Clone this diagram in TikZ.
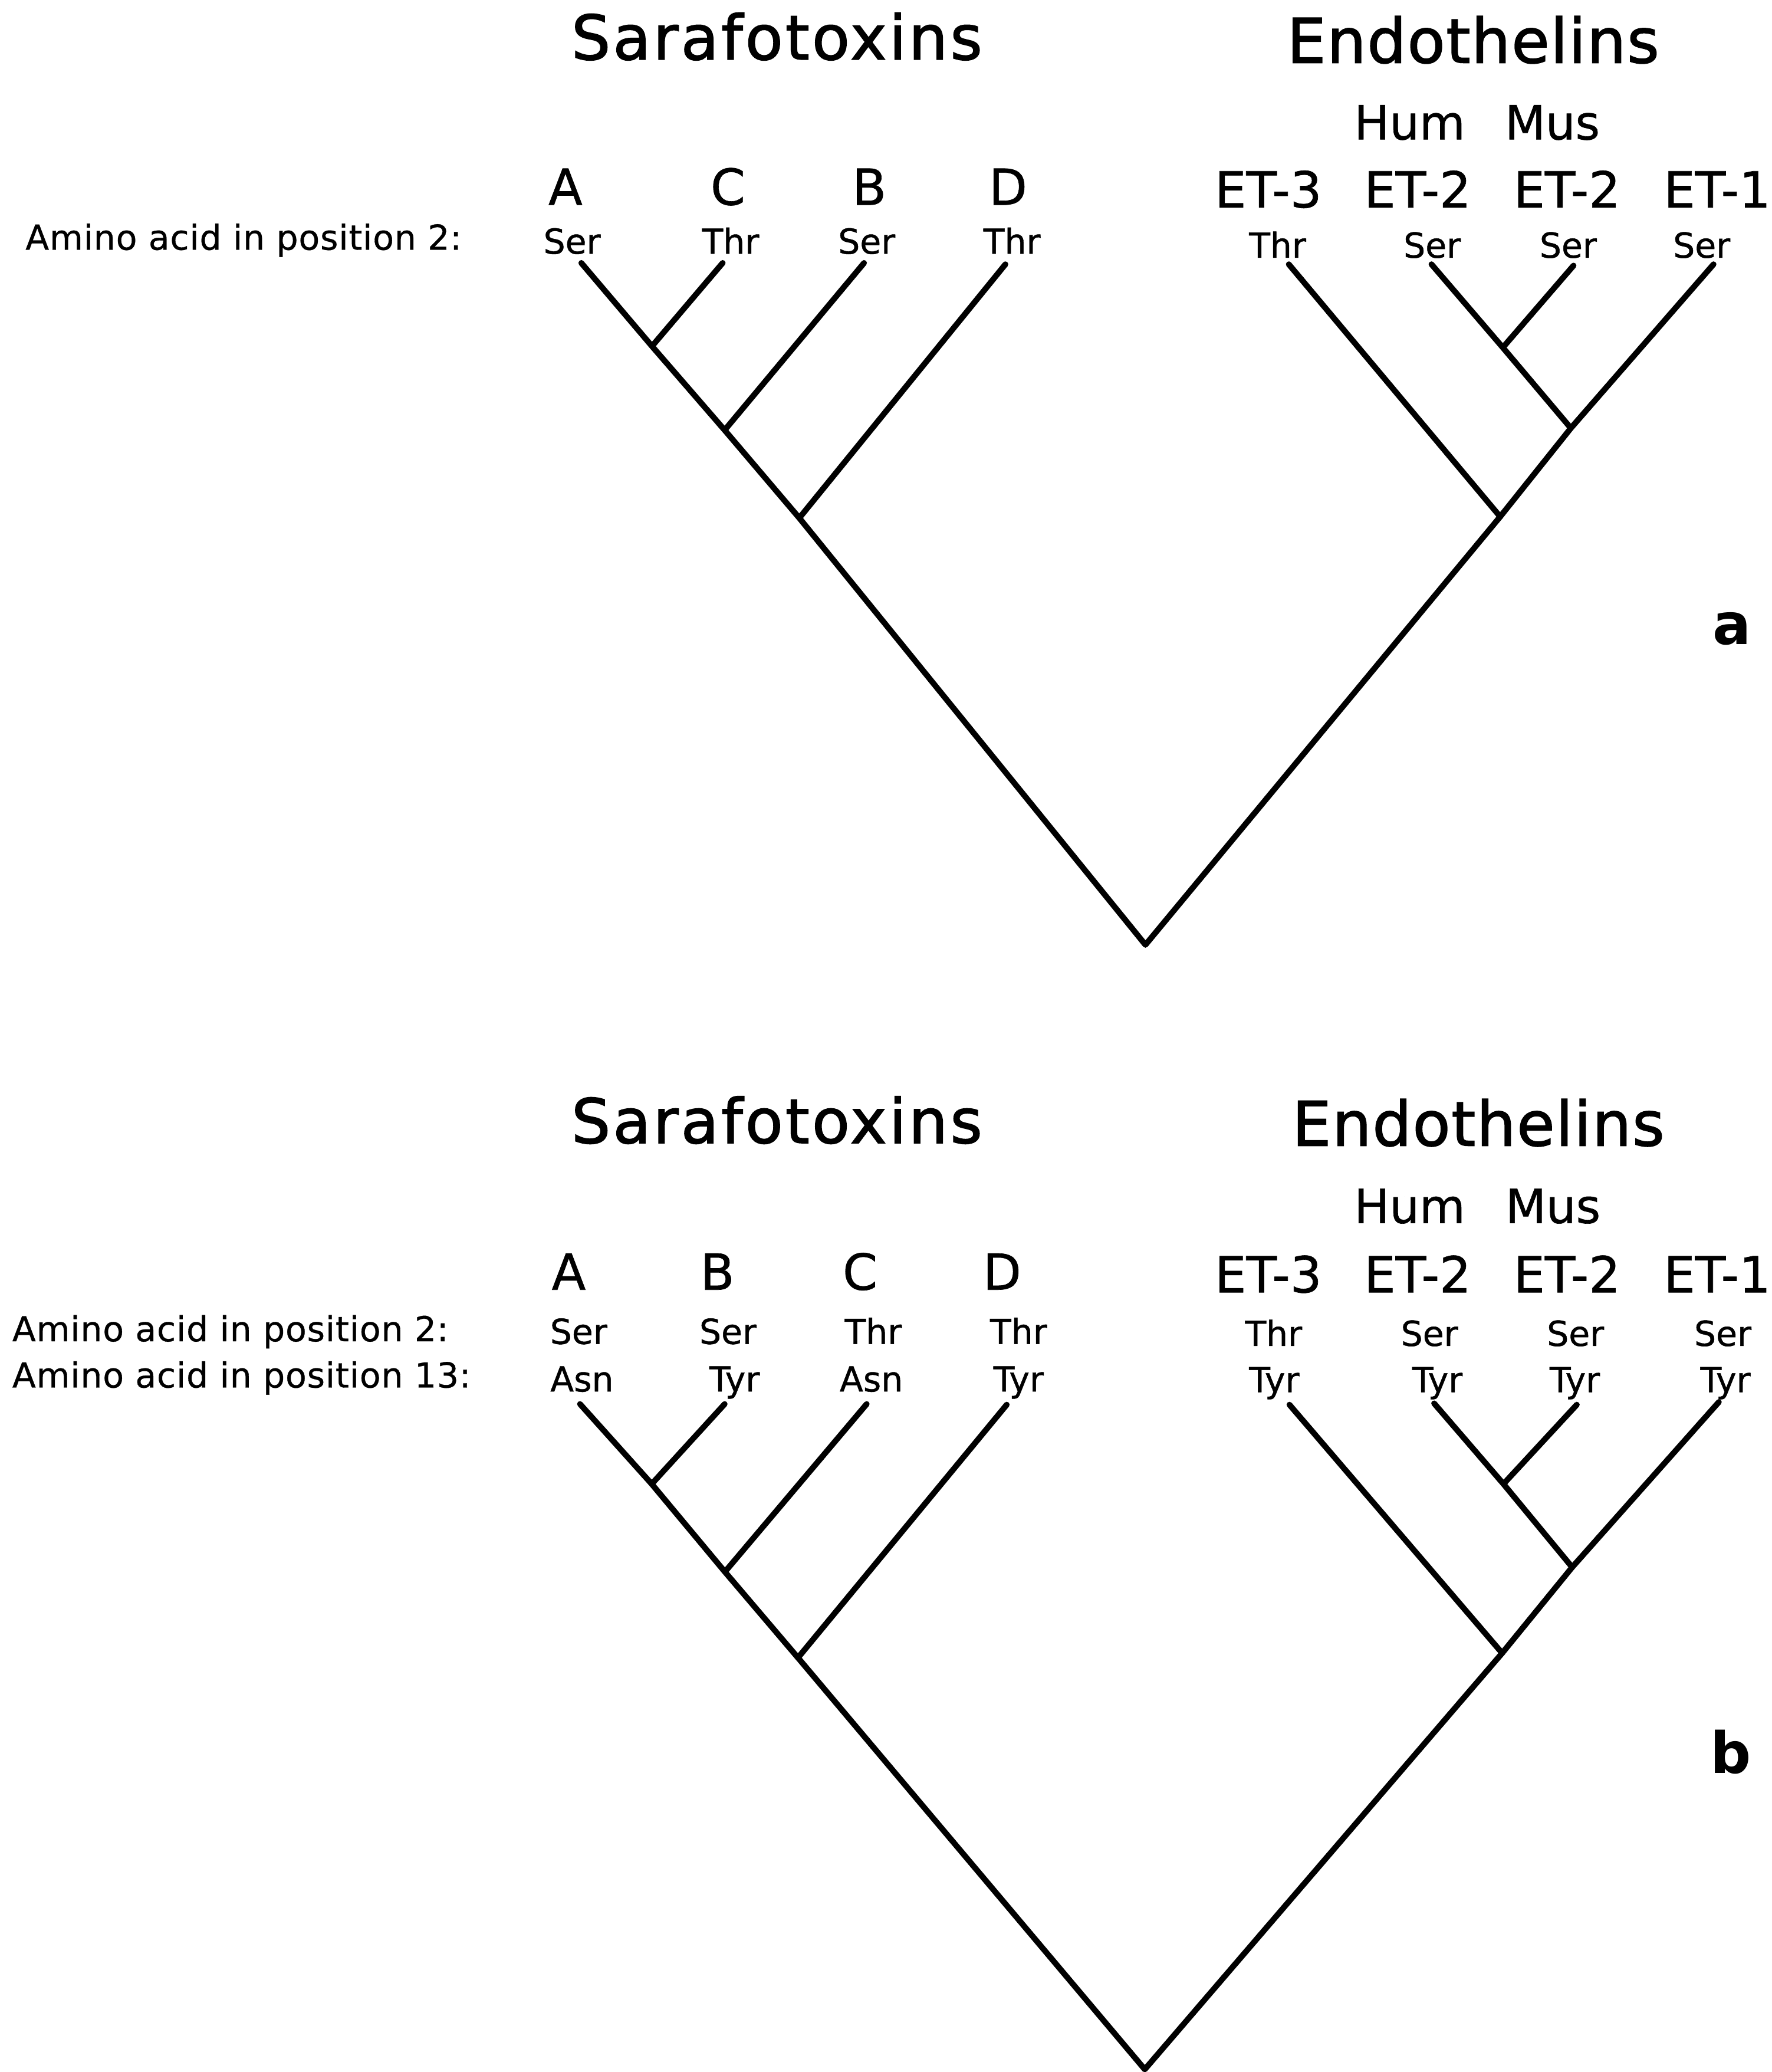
\documentclass[tikz,border=0pt]{standalone}
\usepackage{fontspec}
\setmainfont{DejaVu Sans}
\newfontfamily\titlefont[FakeBold=1.6, LetterSpace=4]{DejaVu Sans}
\newfontfamily\titlefontb[FakeBold=1.6, LetterSpace=1.8]{DejaVu Sans}
\newfontfamily\labfont[FakeBold=0.8]{DejaVu Sans}
\newfontfamily\rowfont[FakeBold=0.6, LetterSpace=1.5]{DejaVu Sans}
\begin{document}
\begin{tikzpicture}[x=0.022401cm, y=-0.022401cm,
  title/.style={font=\titlefont\fontsize{29.7}{32}\selectfont, anchor=base, inner sep=0pt},
  titleb/.style={font=\titlefontb\fontsize{29.7}{32}\selectfont, anchor=base, inner sep=0pt},
  sub/.style={font=\labfont\fontsize{22.7}{25}\selectfont, anchor=base, inner sep=0pt},
  tax/.style={font=\labfont\fontsize{24}{26}\selectfont, anchor=base, inner sep=0pt},
  aa/.style={font=\labfont\fontsize{16.6}{18}\selectfont, anchor=base, inner sep=0pt},
  rowlab/.style={font=\rowfont\fontsize{16.6}{18}\selectfont, inner sep=0pt, anchor=base west},
  panel/.style={font=\bfseries\fontsize{27.5}{30}\selectfont, anchor=base, inner sep=0pt},
  branch/.style={line width=2.8pt, line cap=round, line join=round}]
\useasboundingbox (0,0) rectangle (1341,1568);

% ---------------- Panel a ----------------
\node[title] (sa) at (588,45) {Sarafotoxins};
\node[titleb] (ea) at (1115,47.5) {Endothelins};
\node[sub] (huma) at (1067,105.5) {Hum};
\node[sub] (musa) at (1175,105.5) {Mus};
\node[tax] (tAa) at (428,155) {A};
\node[tax] (tCa) at (551,155) {C};
\node[tax] (tBa) at (658,155) {B};
\node[tax] (tDa) at (763,155) {D};
\node[tax] (e3a) at (960,157) {ET-3};
\node[tax] (e2ha) at (1073,157) {ET-2};
\node[tax] (e2ma) at (1186,157) {ET-2};
\node[tax, anchor=base west] (e1a) at (1259,157) {ET-1};
\node[rowlab] (rowa) at (19,189) {Amino acid in position 2:};
\node[aa] (sAa) at (433,192) {Ser};
\node[aa] (sCa) at (553,192) {Thr};
\node[aa] (sBa) at (656,192) {Ser};
\node[aa] (sDa) at (766,192) {Thr};
\node[aa] (s3a) at (967,195) {Thr};
\node[aa] (s2ha) at (1084,195) {Ser};
\node[aa] (s2ma) at (1187,195) {Ser};
\node[aa] (s1a) at (1288,195) {Ser};
\node[panel] (pa) at (1311,487.5) {a};

\coordinate (lAa) at (440,199);
\coordinate (lCa) at (547,199);
\coordinate (lBa) at (654,199);
\coordinate (lDa) at (761,200);
\coordinate (j1a) at (493.5,262);
\coordinate (j2a) at (548.5,325.5);
\coordinate (j3a) at (605,392);
\coordinate (roota) at (867,715);
\coordinate (l3a) at (975.5,200);
\coordinate (lHa) at (1083.5,200);
\coordinate (lMa) at (1191,201);
\coordinate (l1a) at (1297,200);
\coordinate (k1a) at (1137.5,263);
\coordinate (k2a) at (1189,324);
\coordinate (k3a) at (1135.5,391);

\draw[branch] (lAa) -- (j1a) -- (j2a) -- (j3a) -- (roota) -- (k3a) -- (k2a) -- (l1a);
\draw[branch] (lCa) -- (j1a);
\draw[branch] (lBa) -- (j2a);
\draw[branch] (lDa) -- (j3a);
\draw[branch] (l3a) -- (k3a);
\draw[branch] (lHa) -- (k1a) -- (k2a);
\draw[branch] (lMa) -- (k1a);

% ---------------- Panel b ----------------
\node[title] (sb) at (588,865) {Sarafotoxins};
\node[titleb] (eb) at (1119,867) {Endothelins};
\node[sub] (humb) at (1067,925.5) {Hum};
\node[sub] (musb) at (1175.5,925.5) {Mus};
\node[tax] (tAb) at (430.5,976) {A};
\node[tax] (tBb) at (543,976) {B};
\node[tax] (tCb) at (651,976) {C};
\node[tax] (tDb) at (758.5,976) {D};
\node[tax] (e3b) at (960,978) {ET-3};
\node[tax] (e2hb) at (1073,978) {ET-2};
\node[tax] (e2mb) at (1186,978) {ET-2};
\node[tax, anchor=base west] (e1b) at (1259,978) {ET-1};
\node[rowlab] (row2b) at (9,1015) {Amino acid in position 2:};
\node[rowlab] (row13b) at (9,1050) {Amino acid in position 13:};
\node[aa] (sAb) at (438,1017) {Ser};
\node[aa] (sBb) at (551,1017) {Ser};
\node[aa] (sCb) at (661,1017) {Thr};
\node[aa] (sDb) at (771,1017) {Thr};
\node[aa] (s3b) at (964,1018.5) {Thr};
\node[aa] (s2hb) at (1082,1018.5) {Ser};
\node[aa] (s2mb) at (1192.5,1018.5) {Ser};
\node[aa] (s1b) at (1304,1018.5) {Ser};
\node[aa] (uAb) at (440.5,1053) {Asn};
\node[aa] (uBb) at (556,1053) {Tyr};
\node[aa] (uCb) at (659.5,1053) {Asn};
\node[aa] (uDb) at (771,1053) {Tyr};
\node[aa] (u3b) at (964.5,1053.5) {Tyr};
\node[aa] (u2hb) at (1088,1053.5) {Tyr};
\node[aa] (u2mb) at (1192,1053.5) {Tyr};
\node[aa] (u1b) at (1306,1053.5) {Tyr};
\node[panel] (pb) at (1310,1342) {b};

\coordinate (lAb) at (439,1062.5);
\coordinate (lBb) at (548.5,1062.5);
\coordinate (lCb) at (656,1062.5);
\coordinate (lDb) at (762,1063);
\coordinate (j1b) at (493.3,1123);
\coordinate (j2b) at (548.7,1189.5);
\coordinate (j3b) at (604,1254.5);
\coordinate (rootb) at (866.5,1566);
\coordinate (l3b) at (976,1063);
\coordinate (lHb) at (1085.5,1062);
\coordinate (lMb) at (1193.5,1063);
\coordinate (l1b) at (1301,1061);
\coordinate (k1b) at (1138,1123);
\coordinate (k2b) at (1190,1186);
\coordinate (k3b) at (1137,1251);

\draw[branch] (lAb) -- (j1b) -- (j2b) -- (j3b) -- (rootb) -- (k3b) -- (k2b) -- (l1b);
\draw[branch] (lBb) -- (j1b);
\draw[branch] (lCb) -- (j2b);
\draw[branch] (lDb) -- (j3b);
\draw[branch] (l3b) -- (k3b);
\draw[branch] (lHb) -- (k1b) -- (k2b);
\draw[branch] (lMb) -- (k1b);
\end{tikzpicture}
\end{document}
